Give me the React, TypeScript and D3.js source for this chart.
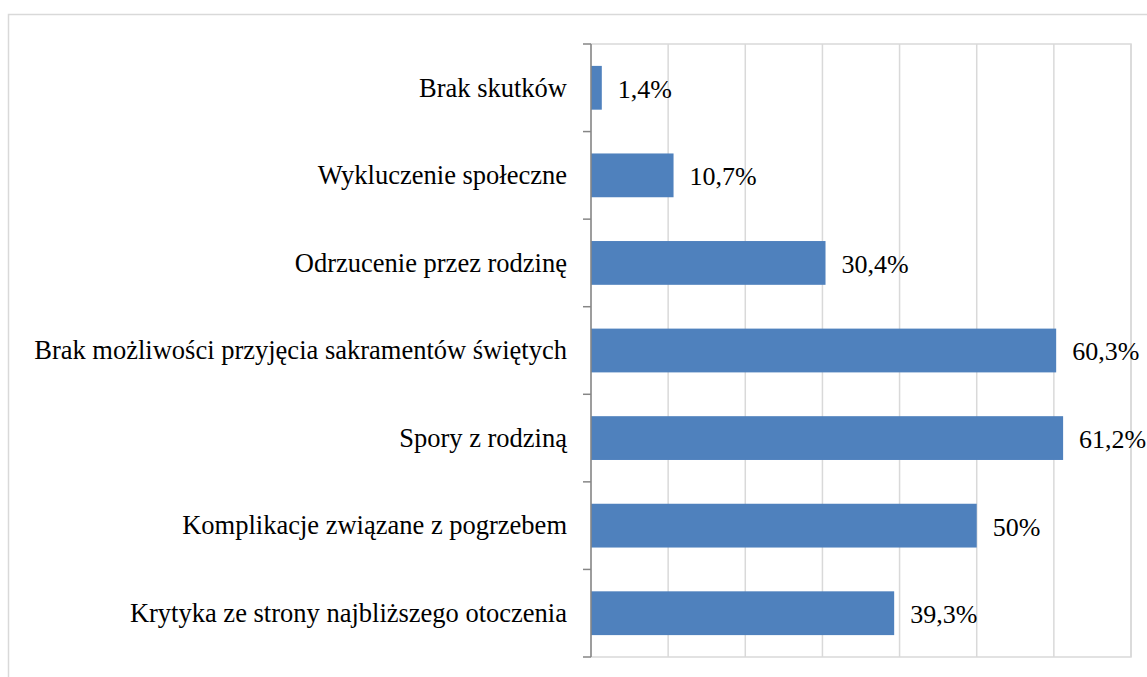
import * as d3 from "d3";
import { useEffect, useRef } from "react";

const categories = [
  "Brak skutków",
  "Wykluczenie społeczne",
  "Odrzucenie przez rodzinę",
  "Brak możliwości przyjęcia sakramentów świętych",
  "Spory z rodziną",
  "Komplikacje związane z pogrzebem",
  "Krytyka ze strony najbliższego otoczenia",
];
const values = [1.4, 10.7, 30.4, 60.3, 61.2, 50, 39.3];
const valueLabels = ["1,4%", "10,7%", "30,4%", "60,3%", "61,2%", "50%", "39,3%"];
const gridTicks = [0, 10, 20, 30, 40, 50, 60, 70];

const App = () => {
  const ref = useRef<SVGSVGElement>(null);

  useEffect(() => {
    const width = 1147;
    const height = 677;
    const left = 591;
    const right = 1131;
    const top = 44;
    const bottom = 657;
    const font = "'Liberation Serif', 'Times New Roman', serif";

    const x = d3.scaleLinear().domain([0, 70]).range([left, right]);
    const y = d3.scaleBand().domain(categories).range([top, bottom]).paddingInner(0.5).paddingOuter(0.25);

    const svg = d3.select(ref.current).attr("width", width).attr("height", height);
    svg.selectAll("*").remove();

    // outer chart frame
    svg.append("rect")
      .attr("x", 8.5).attr("y", 14.5)
      .attr("width", 1200).attr("height", 800)
      .attr("fill", "none").attr("stroke", "#d9d9d9").attr("stroke-width", 1.5);

    // plot area border + gridlines
    svg.append("rect")
      .attr("x", left).attr("y", top)
      .attr("width", right - left).attr("height", bottom - top)
      .attr("fill", "none").attr("stroke", "#d9d9d9").attr("stroke-width", 1.5);

    svg.append("g")
      .selectAll("line")
      .data(gridTicks.slice(1))
      .join("line")
      .attr("x1", (d) => x(d)).attr("x2", (d) => x(d))
      .attr("y1", top).attr("y2", bottom)
      .attr("stroke", "#d9d9d9").attr("stroke-width", 1.5);

    // bars
    svg.append("g")
      .selectAll("rect")
      .data(categories)
      .join("rect")
      .attr("x", x(0))
      .attr("y", (d) => y(d)!)
      .attr("width", (_, i) => x(values[i]) - x(0))
      .attr("height", y.bandwidth())
      .attr("fill", "#4f81bd");

    // category axis
    const step = (bottom - top) / categories.length;
    const boundaries = d3.range(categories.length + 1).map((i) => top + i * step);
    const ax = svg.append("g");
    ax.append("line")
      .attr("x1", left).attr("x2", left).attr("y1", top).attr("y2", bottom)
      .attr("stroke", "#868686").attr("stroke-width", 1.5);
    ax.selectAll("line.tick")
      .data(boundaries)
      .join("line")
      .attr("class", "tick")
      .attr("x1", left - 8).attr("x2", left)
      .attr("y1", (d) => d).attr("y2", (d) => d)
      .attr("stroke", "#868686").attr("stroke-width", 1.5);

    svg.append("g")
      .selectAll("text")
      .data(categories)
      .join("text")
      .attr("x", 567)
      .attr("y", (d) => y(d)! + y.bandwidth() / 2)
      .attr("dy", "0.33em")
      .attr("text-anchor", "end")
      .attr("font-family", font)
      .attr("font-size", 26.5)
      .attr("fill", "#000")
      .text((d) => d);

    // value labels
    svg.append("g")
      .selectAll("text")
      .data(categories)
      .join("text")
      .attr("x", (_, i) => x(values[i]) + 16)
      .attr("y", (d) => y(d)! + y.bandwidth() / 2)
      .attr("dy", "0.38em")
      .attr("font-family", font)
      .attr("font-size", 26)
      .attr("fill", "#000")
      .text((_, i) => valueLabels[i]);
  }, []);

  return (
    <div style={{ position: "fixed", left: 0, top: 0, width: 1147, height: 677, background: "#fff", overflow: "hidden" }}>
      <svg ref={ref} style={{ display: "block" }}></svg>
    </div>
  );
};

export default App;
